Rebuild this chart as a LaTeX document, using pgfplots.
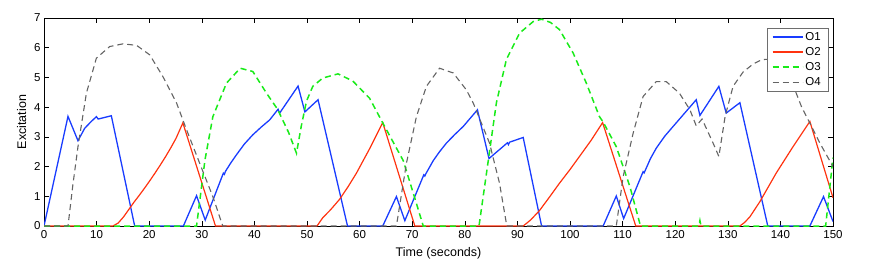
\documentclass[border=0pt]{standalone}
\usepackage{fontspec}
\setmainfont{Liberation Sans}
\usepackage{pgfplots}
\pgfplotsset{compat=1.18}
\definecolor{cO1}{RGB}{25,60,255}
\definecolor{cO2}{RGB}{255,50,15}
\definecolor{cO3}{RGB}{25,235,25}
\definecolor{cO4}{RGB}{100,100,100}
\definecolor{legbox}{RGB}{110,110,110}
\begin{document}
\begin{tikzpicture}
\begin{axis}[
  width=789pt, height=208pt, scale only axis,
  xmin=0, xmax=150, ymin=0, ymax=7,
  xtick={0,10,...,150}, ytick={0,1,...,7},
  tick align=inside, major tick length=5pt,
  tick pos=both,
  axis line style={black, line width=0.6pt},
  tick style={black, line width=0.5pt},
  /pgf/number format/assume math mode=true,
  tick label style={font=\fontsize{11.5}{13}\selectfont},
  label style={font=\fontsize{12.5}{14}\selectfont},
  xlabel={Time (seconds)}, ylabel={Excitation},
  xlabel style={yshift=-2pt},
  ylabel style={yshift=1pt},
  xticklabel style={yshift=-1pt},
  legend style={at={(0.9937,0.952)}, anchor=north east, draw=legbox,
    fill=white, font=\fontsize{11.5}{13}\selectfont, inner xsep=5pt, inner ysep=2pt,
    row sep=1.6pt, cells={anchor=west}},
  legend image code/.code={\draw (0pt,0pt) -- (30pt,0pt);},
]
\coordinate (sw) at (rel axis cs:0,0);
\addplot[cO1, line width=1.3pt] coordinates {
(0,0) (4.56,3.69) (6.46,2.87) (7.74,3.29) (9.0,3.52) (9.96,3.68) (10.3,3.6) (12.8,3.71) (17.24,0)
(26.5,0) (29.0,1.02) (30.65,0.2) (34.1,1.78) (34.3,1.74) (34.5,1.84) (35.5,2.12) (36.6,2.4) (38.1,2.76) (39.7,3.07) (41.3,3.33) (42.9,3.57) (44.5,3.93) (44.8,3.8) (48.3,4.71) (49.6,3.84) (52.1,4.25) (57.7,0)
(64.4,0) (67.0,0.99) (68.6,0.18) (72.2,1.72) (72.4,1.68) (72.6,1.76) (74.0,2.2) (75.2,2.5) (76.5,2.79) (78.1,3.08) (79.7,3.35) (82.4,3.91) (84.6,2.27) (88.1,2.8) (88.3,2.74) (88.5,2.82) (91.1,2.98) (94.6,0)
(106.3,0) (108.8,1.01) (110.2,0.25) (113.9,1.83) (114.1,1.79) (114.3,1.87) (115.3,2.27) (116.4,2.62) (118.0,3.02) (119.6,3.35) (124.0,4.25) (124.7,3.72) (128.3,4.7) (129.7,3.8) (132.3,4.15) (137.6,0)
(145.6,0) (148.2,0.99) (150,0.15)
};
\addlegendentry{O1}
\addplot[cO2, line width=1.2pt] coordinates {
(0,0) (13.1,0) (14.1,0.1) (15.1,0.3) (16.1,0.55) (17.1,0.8) (18.1,1.03) (19.1,1.27) (20.1,1.52) (21.1,1.78) (22.1,2.05) (23.1,2.33) (24.1,2.63) (25.1,2.95) (26.4,3.47) (32.6,0)
(51.9,0) (53.0,0.28) (54.5,0.55) (56.2,0.9) (57.8,1.32) (59.4,1.78) (61.9,2.6) (64.4,3.48) (70.5,0)
(91.1,0) (92.5,0.2) (94.2,0.52) (96,0.95) (98,1.44) (100,1.9) (101.8,2.34) (104,2.88) (106.2,3.48) (112.5,0)
(132.3,0) (133.2,0.12) (134.2,0.31) (136.1,0.82) (139.2,1.78) (142.4,2.67) (145.6,3.52) (150,0.95)
};
\addlegendentry{O2}
\addplot[cO3, line width=1.5pt, dash pattern=on 6pt off 4pt] coordinates {
(0,0) (29.0,0) (30.6,2.22) (32.1,3.68) (34.7,4.81) (37.3,5.31) (39.7,5.2) (42.3,4.47) (44.4,3.93) (46.5,3.15) (48.0,2.45) (48.9,3.35) (49.9,4.2) (51.1,4.7) (53.0,4.98) (55.9,5.12) (58.7,4.88) (61.9,4.3) (64.4,3.47) (66.3,2.85) (68.3,2.2) (70.8,0.76) (72.1,0)
(82.7,0) (84.5,2.25) (86.0,4.14) (87.9,5.6) (90.4,6.49) (93.0,6.88) (94.6,6.96) (96.3,6.85) (98,6.61) (100.6,5.82) (103.1,4.81) (105.6,3.68) (106.3,3.5) (108.8,2.67) (111.4,1.32) (113.4,0)
(124.5,0) (124.7,0.18) (124.9,0) (148.6,0) (150,2.3)
};
\addlegendentry{O3}
\addplot[cO4, line width=1.1pt, dash pattern=on 6pt off 4pt] coordinates {
(0,0) (4.56,0) (5.5,1.4) (6.46,2.67) (8.06,4.47) (9.96,5.65) (12.5,6.04) (15.0,6.13) (17.6,6.08) (20.1,5.76) (22.6,5.03) (25.2,4.14) (27.1,3.24) (29.6,2.11) (32.1,0.99) (33.7,0.15) (34.0,0)
(67.0,0) (68.9,2.11) (70.8,3.68) (72.7,4.7) (75.2,5.31) (77.8,5.15) (80.3,4.58) (81.6,4.14) (84.7,2.79) (86.6,1.44) (87.9,0.09) (88.0,0)
(108.8,0) (110.1,1.66) (112.0,3.12) (113.9,4.36) (116.4,4.86) (118.3,4.86) (120.8,4.47) (122.8,3.91) (124.0,3.37) (125.1,3.6) (127.2,2.79) (128.3,2.34) (129.5,3.7) (131.0,4.7) (132.9,5.18) (134.8,5.45) (136.5,5.6) (138.5,5.62) (140.5,5.35) (142.5,4.7) (144.0,4.02) (145.6,3.46) (147.5,2.79) (150,2.0)
};
\addlegendentry{O4}
\end{axis}
\pgfresetboundingbox
\path (sw) ++(-44pt,-32pt) rectangle ++(886pt,258pt);
\end{tikzpicture}
\end{document}
